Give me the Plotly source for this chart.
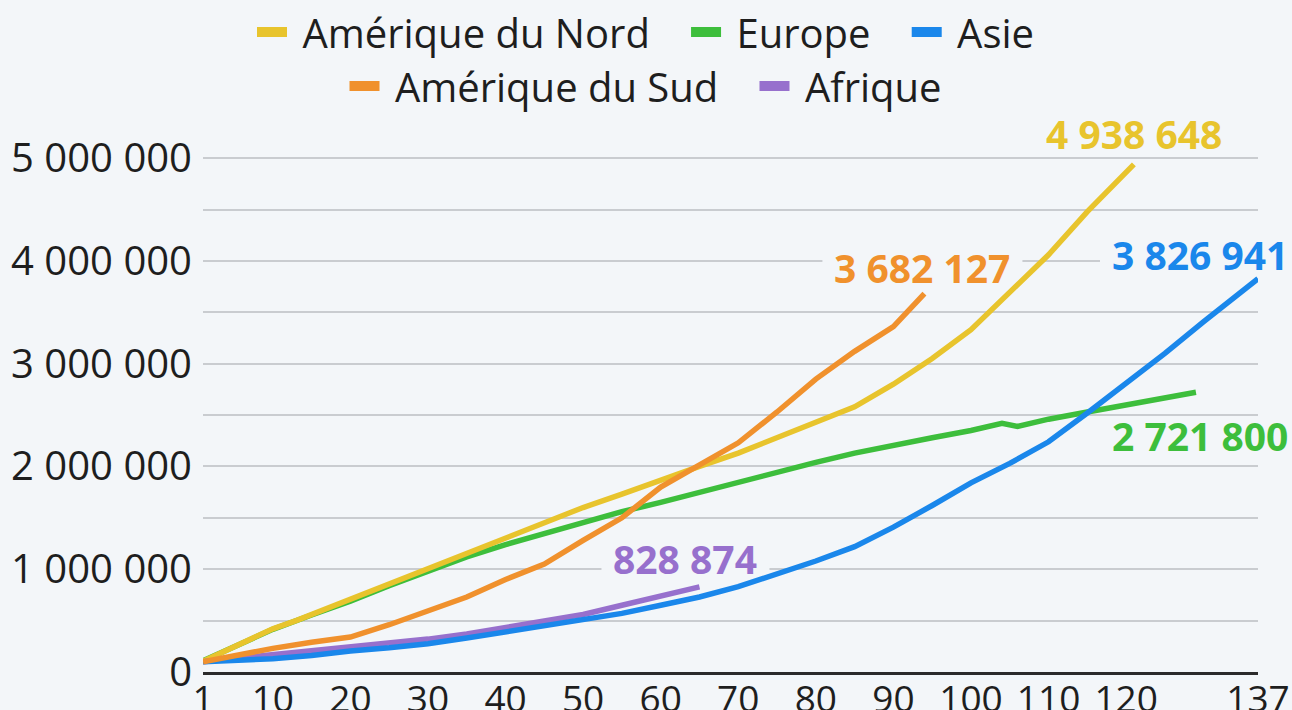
import plotly.graph_objects as go

# ---- data ----
na_days = [1, 5, 10, 13, 15, 20, 25, 30, 35, 40, 45, 50, 55, 60, 65, 70, 75, 80, 85, 90, 95, 100, 105, 110, 115, 121]
na_vals = [105000, 245000, 420000, 500000, 560000, 700000, 850000, 1000000, 1160000, 1310000, 1460000, 1600000,
           1730000, 1870000, 2000000, 2130000, 2280000, 2420000, 2580000, 2800000, 3050000, 3330000, 3690000,
           4060000, 4480000, 4938648]

eu_days = [1, 5, 10, 15, 20, 25, 30, 35, 40, 45, 50, 55, 60, 65, 70, 75, 80, 85, 90, 95, 100, 104, 106, 110, 115, 120, 125, 129]
eu_vals = [110000, 250000, 415000, 555000, 690000, 840000, 980000, 1120000, 1240000, 1350000, 1450000, 1560000,
           1650000, 1750000, 1840000, 1940000, 2040000, 2130000, 2210000, 2280000, 2350000, 2420000, 2390000,
           2460000, 2530000, 2600000, 2660000, 2721800]

as_days = [1, 5, 10, 15, 20, 25, 30, 35, 40, 45, 50, 55, 60, 65, 70, 75, 80, 85, 90, 95, 100, 105, 110, 115, 120, 125, 130, 133, 137]
as_vals = [100000, 110000, 130000, 160000, 205000, 235000, 275000, 330000, 390000, 450000, 510000, 570000, 650000,
           730000, 830000, 950000, 1080000, 1220000, 1410000, 1620000, 1840000, 2030000, 2240000, 2520000,
           2810000, 3100000, 3410000, 3590000, 3826941]

sa_days = [1, 5, 10, 15, 20, 25, 30, 35, 40, 45, 50, 55, 60, 65, 70, 75, 80, 85, 90, 94]
sa_vals = [100000, 160000, 230000, 290000, 340000, 460000, 590000, 730000, 900000, 1050000, 1280000, 1500000,
           1800000, 2020000, 2230000, 2530000, 2850000, 3120000, 3360000, 3682127]

af_days = [1, 5, 10, 15, 20, 25, 30, 35, 40, 45, 50, 55, 60, 65]
af_vals = [100000, 130000, 160000, 200000, 245000, 280000, 320000, 370000, 430000, 490000, 560000, 650000, 740000, 828874]

x_tickvals = [1, 10, 20, 30, 40, 50, 60, 70, 80, 90, 100, 110, 120, 137]
y_tickvals = [0, 500000, 1000000, 1500000, 2000000, 2500000, 3000000, 3500000, 4000000, 4500000, 5000000]
y_ticktext = ["0", "", "1 000 000", "", "2 000 000", "", "3 000 000", "", "4 000 000", "", "5 000 000"]

names = ["Amérique du Nord", "Europe", "Asie", "Amérique du Sud", "Afrique"]
colors = ["#E8C42D", "#3DBE3C", "#1A87EB", "#F0912D", "#9770CD"]
data = {
    "Amérique du Nord": (na_days, na_vals),
    "Europe": (eu_days, eu_vals),
    "Asie": (as_days, as_vals),
    "Amérique du Sud": (sa_days, sa_vals),
    "Afrique": (af_days, af_vals),
}
color_of = dict(zip(names, colors))

BG = "#F3F6F9"
FONT = "Open Sans"
TXT = "#1E1E1E"

fig = go.Figure()
# drawing order (later = on top)
for name in ["Europe", "Amérique du Nord", "Afrique", "Asie", "Amérique du Sud"]:
    d, v = data[name]
    fig.add_trace(go.Scatter(x=d, y=v, mode="lines", name=name, showlegend=False,
                             line=dict(color=color_of[name], width=5.5), cliponaxis=False))

# legend entries (two centred rows)
NB = "\u00a0"
legend_rows = [("legend", names[:3]), ("legend2", names[3:])]
for leg, row in legend_rows:
    for i, name in enumerate(row):
        label = NB + name + (NB * 3 if i < len(row) - 1 else "")
        fig.add_trace(go.Scatter(x=[None], y=[None], mode="lines", name=label, legend=leg,
                                 line=dict(color=color_of[name], width=10), showlegend=True))

def fmt(n):
    return f"{n:,}".replace(",", " ")

# end labels: (series, centre xshift, centre yshift, approx text width)
labels = [
    ("Amérique du Nord", 0, 31, 180),
    ("Amérique du Sud", -2, 26, 180),
    ("Asie", -58, 24, 180),
    ("Europe", 4, -43, 180),
    ("Afrique", -14, 28, 148),
]
for name, xs, ys, w in labels:
    d, v = data[name]
    # background patch that interrupts the gridlines behind the label (below the traces)
    fig.add_shape(type="rect", layer="between", xref="x", yref="y",
                  xsizemode="pixel", ysizemode="pixel", xanchor=d[-1], yanchor=v[-1],
                  x0=xs - w / 2 - 10, x1=xs + w / 2 + 10, y0=ys - 18, y1=ys + 18,
                  fillcolor=BG, line=dict(width=0))
    fig.add_annotation(x=d[-1], y=v[-1], text=f"<b>{fmt(v[-1])}</b>", showarrow=False,
                       xanchor="center", yanchor="middle", xshift=xs, yshift=ys,
                       font=dict(family=FONT, size=39, color=color_of[name]))

legfont = dict(size=40, family=FONT, color=TXT)
fig.update_layout(
    template="none",
    width=1292, height=710,
    margin=dict(l=203, r=34, t=153, b=38),
    paper_bgcolor=BG, plot_bgcolor=BG,
    font=dict(family=FONT, color=TXT, size=38),
    showlegend=True,
    legend=dict(orientation="h", x=0.5, xref="container", xanchor="center",
                y=1 - 32 / 710, yref="container", yanchor="middle",
                font=legfont, bgcolor="rgba(0,0,0,0)", itemwidth=30),
    legend2=dict(orientation="h", x=0.5, xref="container", xanchor="center",
                 y=1 - 86 / 710, yref="container", yanchor="middle",
                 font=legfont, bgcolor="rgba(0,0,0,0)", itemwidth=30),
    xaxis=dict(range=[1, 137], tickmode="array", tickvals=x_tickvals,
               ticktext=[str(t) for t in x_tickvals], showgrid=False, zeroline=False,
               showline=True, linecolor="#2B2B2B", linewidth=3, ticks="", ticklen=0,
               ticklabelstandoff=-7,
               tickfont=dict(size=37, family=FONT, color=TXT), automargin=False),
    yaxis=dict(range=[0, 5050000], tickmode="array", tickvals=y_tickvals, ticktext=y_ticktext,
               showgrid=True, gridcolor="#C9CCD0", gridwidth=2, zeroline=False, showline=False,
               ticks="", ticklen=0, ticklabelstandoff=10,
               tickfont=dict(size=40, family=FONT, color=TXT), automargin=False),
)

fig.write_html(
    "out.html",
    config={"displayModeBar": False},
    post_script="document.body.style.margin='0';document.body.style.background='" + BG + "';",
)
